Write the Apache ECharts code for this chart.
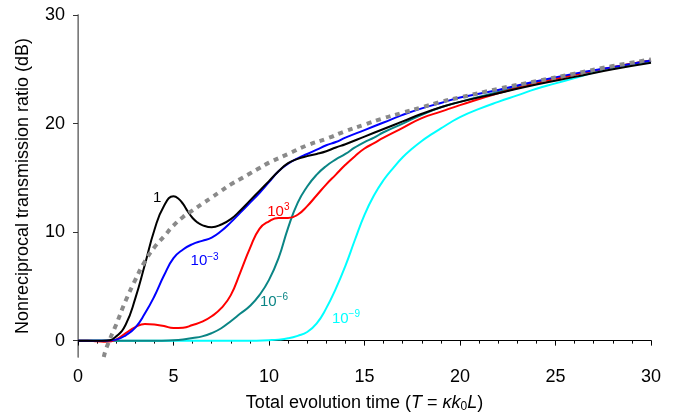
<!DOCTYPE html>
<html>
<head>
<meta charset="utf-8">
<script src="https://cdn.jsdelivr.net/npm/echarts@6/dist/echarts.min.js"></script>
<style>
  html, body { margin: 0; padding: 0; background: #fff; }
  #chart { width: 676px; height: 420px; }
</style>
</head>
<body>
<div id="chart"></div>
<script>
// 传输比随演化时间变化
var FONT = "Liberation Sans, Arial, Helvetica, sans-serif";

// κ = 1
var blackT = [0, 0.5, 1, 1.5, 2, 2.5, 3, 3.5, 4, 4.5, 5, 5.25, 5.5, 5.75, 6, 6.25, 6.5, 7, 7.5, 8, 8.5, 9, 9.5, 10, 10.5, 11, 11.5, 12, 12.5, 13, 13.5, 14, 15, 16, 17, 18, 19, 20, 22, 24, 26, 28, 30];
var blackV = [0, 0, 0, 0.02, 0.4, 1.5, 3.9, 7.0, 10.2, 12.4, 13.3, 13.1, 12.6, 11.9, 11.3, 10.9, 10.65, 10.45, 10.7, 11.2, 12.0, 12.9, 13.8, 14.7, 15.6, 16.35, 16.75, 17.0, 17.2, 17.45, 17.8, 18.1, 18.8, 19.5, 20.2, 20.9, 21.5, 22.0, 22.8, 23.6, 24.3, 25.0, 25.6];
// 10^-3
var blueT = [0, 0.5, 1, 1.5, 2, 2.5, 3, 3.5, 4, 4.5, 5, 5.5, 6, 6.5, 7, 7.5, 8, 8.5, 9, 9.5, 10, 10.5, 11, 11.5, 12, 12.5, 13, 13.5, 14, 15, 16, 17, 18, 19, 20, 22, 24, 26, 28, 30];
var blueV = [0, 0, 0, 0, 0.1, 0.5, 1.2, 2.5, 4.1, 6.0, 7.6, 8.4, 8.9, 9.2, 9.5, 10.1, 10.9, 11.8, 12.7, 13.6, 14.6, 15.6, 16.3, 16.8, 17.2, 17.6, 18.0, 18.3, 18.7, 19.4, 20.1, 20.8, 21.4, 21.9, 22.4, 23.1, 23.9, 24.6, 25.2, 25.8];
// 10^3
var redT = [0, 0.5, 1, 1.5, 2, 2.5, 3, 3.5, 4, 4.5, 5, 5.5, 6, 6.5, 7, 7.5, 8, 8.5, 9, 9.5, 10, 10.5, 11, 11.5, 12, 12.5, 13, 13.5, 14, 14.5, 15, 15.5, 16, 17, 18, 19, 20, 22, 24, 26, 28, 30];
var redV = [0, 0, -0.05, -0.1, 0.1, 0.7, 1.25, 1.55, 1.5, 1.35, 1.17, 1.2, 1.45, 1.75, 2.25, 3.0, 4.2, 6.3, 8.5, 10.3, 11.0, 11.3, 11.3, 11.6, 12.4, 13.4, 14.4, 15.3, 16.2, 17.0, 17.7, 18.2, 18.7, 19.6, 20.5, 21.1, 21.7, 22.8, 23.7, 24.5, 25.2, 25.8];
// 10^-6
var tealT = [0, 2, 4, 5, 5.5, 6, 6.5, 7, 7.5, 8, 8.5, 9, 9.5, 10, 10.5, 11, 11.5, 12, 12.5, 13, 13.5, 14, 14.5, 15, 15.5, 16, 17, 18, 19, 20, 22, 24, 26, 28, 30];
var tealV = [0, 0, 0, 0.05, 0.12, 0.25, 0.4, 0.7, 1.15, 1.8, 2.5, 3.2, 4.2, 5.6, 7.6, 10.4, 12.7, 14.2, 15.3, 16.1, 16.7, 17.2, 17.8, 18.3, 18.7, 19.2, 20.0, 20.8, 21.5, 22.0, 22.9, 23.8, 24.5, 25.2, 25.8];
// 10^-9
var cyanT = [0, 3, 6, 9, 10, 10.5, 11, 11.5, 12, 12.5, 13, 13.5, 14, 14.5, 15, 15.5, 16, 16.5, 17, 17.5, 18, 18.5, 19, 19.5, 20, 21, 22, 23, 24, 25, 26, 27, 28, 29, 30];
var cyanV = [0, 0, 0, 0, 0.05, 0.1, 0.22, 0.45, 0.8, 1.6, 3.0, 4.8, 6.9, 9.3, 11.6, 13.4, 14.8, 15.9, 16.9, 17.7, 18.4, 19.0, 19.55, 20.1, 20.6, 21.35, 22.0, 22.6, 23.2, 23.7, 24.2, 24.7, 25.1, 25.4, 25.7];
// 虚线
var grayT = [1.35, 1.5, 2, 2.5, 3, 3.5, 4, 4.5, 5, 5.5, 6, 6.5, 7, 7.5, 8, 8.5, 9, 9.5, 10, 11, 12, 13, 14, 15, 16, 17, 18, 19, 20, 22, 24, 26, 28, 30];
var grayV = [-1.5, -0.6, 1.5, 3.7, 5.6, 7.3, 8.6, 9.6, 10.6, 11.4, 12.0, 12.6, 13.2, 13.8, 14.4, 14.9, 15.4, 15.9, 16.4, 17.2, 18.0, 18.6, 19.3, 19.9, 20.5, 21.0, 21.5, 22.0, 22.4, 23.2, 23.9, 24.6, 25.3, 25.9];

var xTicks = [0, 5, 10, 15, 20, 25, 30];
var yTicks = [0, 10, 20, 30];

// 曲线标注: [text, T, value]
var notes = {
  black: ["1", 4.14, 13.2],
  blue: ["{b|10}{p|−3}", 6.63, 7.34],
  red: ["{b|10}{p|3}", 10.49, 11.91],
  teal: ["{b|10}{p|−6}", 10.26, 3.6],
  cyan: ["{b|10}{p|−9}", 14.03, 2.03]
};

function zip (xs, ys) {
  var out = [];
  for (var i = 0; i < xs.length; i++) out.push([xs[i], ys[i]]);
  return out;
}

function curve (name, xs, ys, color) {
  var n = notes[name];
  return {
    name: name,
    type: "line",
    data: zip(xs, ys),
    smooth: 0.5,
    symbol: "none",
    clip: true,
    lineStyle: { color: color, width: 2 },
    markPoint: {
      silent: true,
      symbol: "circle",
      symbolSize: 1,
      itemStyle: { color: "rgba(0,0,0,0)" },
      data: [{ coord: [n[1], n[2]] }],
      label: {
        show: true,
        position: "inside",
        formatter: n[0],
        fontFamily: FONT,
        fontSize: 15,
        color: color,
        rich: {
          b: { fontFamily: FONT, fontSize: 15, lineHeight: 18, color: color },
          p: { fontFamily: FONT, fontSize: 10, lineHeight: 10, verticalAlign: "top", color: color }
        }
      }
    }
  };
}

var myChart = echarts.init(document.getElementById("chart"), null, { renderer: "canvas" });

var option = {
  animation: false,
  backgroundColor: "#fff",
  grid: { left: 78, right: 25, top: 15, bottom: 63 },
  xAxis: [
    {
      type: "value",
      min: 0,
      max: 30,
      interval: 5,
      position: "bottom",
      axisLine: { show: true, lineStyle: { color: "#222", width: 1 } },
      axisTick: { show: true, inside: false, length: 5, lineStyle: { color: "#222" } },
      minorTick: { show: true, splitNumber: 5, length: 3, lineStyle: { color: "#222" } },
      splitLine: { show: false },
      axisLabel: {
        fontFamily: FONT, fontSize: 18, color: "#000", margin: 11,
        customValues: xTicks
      },
      name: "{n|Total evolution time (}{i|T}{n| = }{i|κk}{s|0}{i|L}{n|)}",
      nameLocation: "middle",
      nameGap: 36,
      nameTextStyle: {
        rich: {
          n: { fontFamily: FONT, fontSize: 18, lineHeight: 20, color: "#000" },
          i: { fontFamily: FONT, fontSize: 18, lineHeight: 20, fontStyle: "italic", color: "#000" },
          s: { fontFamily: FONT, fontSize: 12, lineHeight: 8, verticalAlign: "bottom", color: "#000" }
        }
      }
    },
    {
      type: "value",
      min: 0,
      max: 30,
      interval: 5,
      position: "top",
      axisLine: { show: true, lineStyle: { color: "#000", width: 1 } },
      axisTick: { show: true, inside: true, length: 4, lineStyle: { color: "#000" } },
      minorTick: { show: true, splitNumber: 5, length: 2, lineStyle: { color: "#000" } },
      splitLine: { show: false },
      axisLabel: { show: false }
    }
  ],
  yAxis: [
    {
      type: "value",
      min: -1.5,
      max: 30,
      position: "left",
      axisLine: { show: true, lineStyle: { color: "#555", width: 1 } },
      axisTick: { show: true, inside: false, length: 5, customValues: yTicks, lineStyle: { color: "#333" } },
      splitLine: { show: false },
      axisLabel: {
        fontFamily: FONT, fontSize: 18, color: "#000", margin: 13,
        customValues: yTicks
      },
      name: "Nonreciprocal transmission ratio (dB)",
      nameLocation: "middle",
      nameGap: 46,
      nameTextStyle: { fontFamily: FONT, fontSize: 18, color: "#000" }
    },
    {
      type: "value",
      min: -1.5,
      max: 30,
      position: "right",
      axisLine: { show: true, lineStyle: { color: "#888", width: 1.5 } },
      axisTick: { show: true, inside: true, length: 5, customValues: yTicks, lineStyle: { color: "#333" } },
      splitLine: { show: false },
      axisLabel: { show: false }
    }
  ],
  series: [
    curve("cyan", cyanT, cyanV, "#00ffff"),
    curve("teal", tealT, tealV, "#0a8585"),
    curve("red", redT, redV, "#ff0000"),
    curve("blue", blueT, blueV, "#0000ff"),
    curve("black", blackT, blackV, "#000000"),
    {
      name: "bound",
      type: "line",
      data: zip(grayT, grayV),
      smooth: 0.5,
      symbol: "none",
      clip: true,
      lineStyle: { color: "#8a8a8a", width: 4, type: [5, 5] }
    }
  ]
};

myChart.setOption(option);
</script>
</body>
</html>
